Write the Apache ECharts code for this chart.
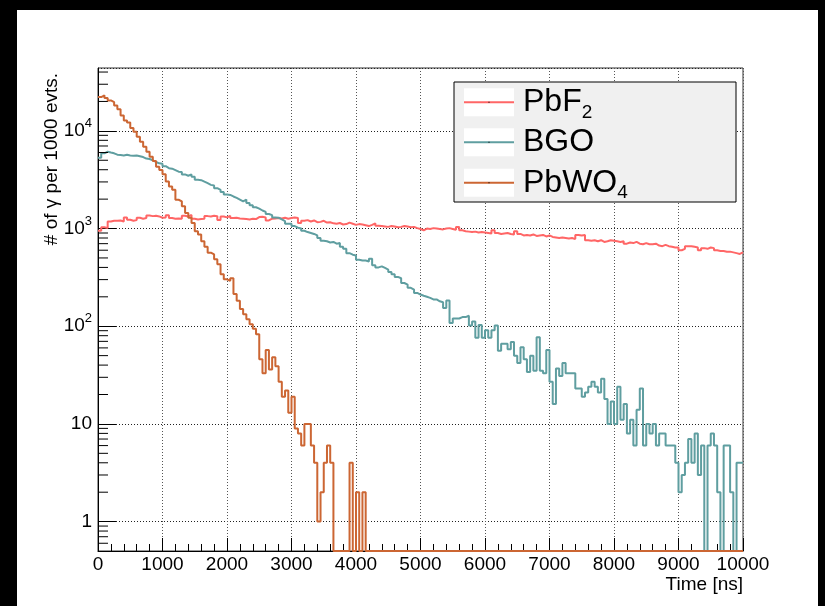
<!DOCTYPE html>
<html><head><meta charset="utf-8">
<script src="https://cdn.jsdelivr.net/npm/echarts@6/dist/echarts.min.js"></script>
<style>
html,body{margin:0;padding:0;background:#000;width:825px;height:606px;overflow:hidden}
#frame{position:absolute;left:17px;top:10px;width:801px;height:596px;background:#fff}
#chart{width:801px;height:596px}
</style></head><body><div id="frame"><div id="chart"></div></div>
<script>
// ---- data ----
const binWidth = 50; // ns
const xTicks = [0,1000,2000,3000,4000,5000,6000,7000,8000,9000,10000];
const yMinorTicks = [0.6,0.7,0.8,0.9, 2,3,4,5,6,7,8,9, 20,30,40,50,60,70,80,90,
  200,300,400,500,600,700,800,900, 2000,3000,4000,5000,6000,7000,8000,9000, 20000,30000,40000];
const seriesNames = ['PbF2','BGO','PbWO4'];

const pbf2 = [950,1030,1010,1180,1200,1200,1210,1180,1300,1230,1200,1220,1290,1260,1280,1360,1340,1350,1330,1290,
  1300,1370,1280,1260,1270,1260,1350,1330,1380,1260,1240,1250,1260,1340,1330,1350,1340,1220,1330,1300,
  1350,1280,1290,1270,1260,1250,1240,1260,1250,1310,1320,1300,1210,1260,1270,1280,1270,1290,1260,1280,
  1300,1280,1140,1200,1220,1180,1210,1160,1170,1200,1150,1160,1130,1120,1140,1100,1110,1150,1120,1090,
  1110,1100,1080,1060,1090,1130,1070,1060,1050,1040,1060,1050,1030,1040,1060,1050,1030,1040,1010,990,
  960,1000,990,1010,1000,990,980,1000,1010,990,970,1040,960,940,930,920,930,910,920,910,
  900,890,960,900,880,890,900,880,870,940,880,850,860,850,870,840,850,860,830,850,
  820,810,800,810,800,790,800,780,860,850,860,760,750,760,740,760,730,740,760,750,
  740,730,740,700,720,710,730,700,690,710,690,690,700,670,660,680,660,650,640,640,
  600,620,660,660,650,640,600,630,620,640,630,600,590,590,580,580,570,560,550,570];

const bgo = [5320,5890,6120,6000,5890,5700,5650,5600,5680,5600,5550,5600,5500,5390,5200,5150,5000,4800,4650,4600,
  4350,4150,4100,3960,3820,3800,3580,3470,3580,3390,3150,3130,3020,2910,2800,2760,2590,2490,2360,2230,
  2210,2130,2060,1980,1900,1980,1830,1730,1650,1600,1530,1480,1410,1370,1300,1290,1240,1190,1120,1120,
  1060,1020,1000,950,920,900,880,850,800,750,740,720,730,700,710,650,620,560,540,530,
  480,470,470,460,490,420,400,410,395,380,360,340,320,310,277,267,247,237,219,211,
  205,200,195,188,188,180,176,154,183,108,120,120,124,124,128,102,112,76,103,76,
  91,76,91,102,56,66,66,58,69,50,42,61,46,34,50,35,77,35,33,57,
  27,16,37,31,42,33,33,33,23,23,19,21,24,27,24,21,29,18,10,17,
  10,24,11,16,8,11,6,14,23,6,10,8,10,6,8,8,6,6,6,4,
  2,3,4,7,4,8,3,6,0,6,8,6,2,0,6,6,2,0,4,4];

const pbwo4 = [22200,23100,21700,20500,19700,18200,16600,14400,12800,12200,10700,9770,8690,7730,6880,6110,5440,4900,4300,3980,
  3600,3030,2690,2490,1970,1900,1690,1440,1290,1140,940,870,742,650,566,544,484,430,340,302,
  291,310,214,182,150,133,118,105,94,83,46,33,57,36,48,39,27,19,22,13,
  19,9,8,6,10,10,6,4,1,2,4,6,4,0,0,0,0,0,4,0,
  2,0,2,0,0,0,0,0,0,0,0,0,0,0,0,0,0,0,0,0,
  0,0,0,0,0,0,0,0,0,0,0,0,0,0,0,0,0,0,0,0,
  0,0,0,0,0,0,0,0,0,0,0,0,0,0,0,0,0,0,0,0,
  0,0,0,0,0,0,0,0,0,0,0,0,0,0,0,0,0,0,0,0,
  0,0,0,0,0,0,0,0,0,0,0,0,0,0,0,0,0,0,0,0,
  0,0,0,0,0,0,0,0,0,0,0,0,0,0,0,0,0,0,0,0];

// ---- styling ----
const FONT = 'Liberation Sans, Helvetica, Arial, sans-serif';
const colors = ['#ff6666', '#5f9ea0', '#cc6633'];
const yMin = 0.5, yMax = 44000;

function toSteps(arr) {
  const pts = arr.map((v, i) => [i * binWidth, v > 0 ? v : yMin]);
  pts.push([arr.length * binWidth, pts[pts.length - 1][1]]);
  return pts;
}

const chart = echarts.init(document.getElementById('chart'), null, {renderer: 'canvas'});

const G = {left: 81, top: 58, width: 645, height: 483};

function legendGraphics() {
  const box = {x: 437, y: 72, w: 282, h: 120};
  const rows = [92.3, 132.3, 172.7];
  const labels = [['PbF', '2'], ['BGO', ''], ['PbWO', '4']];
  const els = [{
    type: 'rect', shape: {x: box.x, y: box.y, width: box.w, height: box.h},
    style: {fill: '#f0f0f0', stroke: '#000', lineWidth: 1}, z: 10
  }];
  rows.forEach((cy, i) => {
    els.push({type: 'rect', shape: {x: 447, y: cy - 14, width: 50, height: 28}, style: {fill: '#fff'}, z: 11});
    els.push({type: 'line', shape: {x1: 447, y1: cy, x2: 497, y2: cy}, style: {stroke: colors[i], lineWidth: 2}, z: 12});
    els.push({type: 'rect', shape: {x: 471.5, y: cy - 0.5, width: 1, height: 1}, style: {fill: '#000'}, z: 13});
    const t = labels[i];
    els.push({
      type: 'text', x: 506, y: cy, z: 12,
      style: {
        text: t[1] ? '{a|' + t[0] + '}{b|' + t[1] + '}' : '{a|' + t[0] + '}',
        verticalAlign: 'middle', align: 'left',
        rich: {
          a: {fontSize: 32, lineHeight: 40, fontFamily: FONT, fill: '#000', color: '#000'},
          b: {fontSize: 19, lineHeight: 20, verticalAlign: 'bottom', fontFamily: FONT, fill: '#000', color: '#000'}
        }
      }
    });
  });
  return els;
}

const option = {
  animation: false,
  backgroundColor: '#fff',
  grid: Object.assign({show: true, borderColor: '#333', borderWidth: 1, backgroundColor: 'transparent'}, G),
  xAxis: {
    type: 'value', min: xTicks[0], max: xTicks[xTicks.length - 1], interval: 1000,
    axisLine: {show: true, lineStyle: {color: '#000', width: 1}},
    axisTick: {show: true, inside: true, length: 13, lineStyle: {color: '#000'}},
    minorTick: {show: true, splitNumber: 5, length: 7, lineStyle: {color: '#000'}},
    axisLabel: {color: '#000', fontSize: 19, fontFamily: FONT, margin: 4, formatter: v => String(v)},
    splitLine: {show: true, lineStyle: {color: '#555', type: [1, 2], width: 1}}
  },
  yAxis: {
    type: 'log', logBase: 10, min: yMin, max: yMax,
    axisLine: {show: true, lineStyle: {color: '#000', width: 1}},
    axisTick: {show: true, inside: true, length: 18, lineStyle: {color: '#000'}},
    axisLabel: {
      color: '#000', fontSize: 19, fontFamily: FONT, margin: 6,
      showMinLabel: false, showMaxLabel: false,
      formatter: function (v) {
        const l = Math.log10(v), n = Math.round(l);
        if (Math.abs(l - n) > 1e-6) return '';
        if (n === 0) return '1';
        if (n === 1) return '10';
        return '{b|10}{s|' + n + '}';
      },
      rich: {
        b: {fontSize: 19, lineHeight: 28, fontFamily: FONT, color: '#000'},
        s: {fontSize: 13, lineHeight: 12, verticalAlign: 'top', fontFamily: FONT, color: '#000'}
      }
    },
    splitLine: {show: true, lineStyle: {color: '#222', type: [1, 2], width: 1}}
  },
  series: [
    {
      type: 'custom', name: 'minorTicks', silent: true, clip: false, z: 5,
      data: yMinorTicks.map(v => [0, v]),
      renderItem: function (params, api) {
        const p = api.coord([api.value(0), api.value(1)]);
        return {type: 'line', shape: {x1: p[0], y1: p[1], x2: p[0] + 10, y2: p[1]}, style: {stroke: '#000', lineWidth: 1}};
      }
    }
  ].concat([pbf2, bgo, pbwo4].map((arr, i) => ({
    type: 'line', name: seriesNames[i], step: 'end', symbol: 'none', data: toSteps(arr),
    lineStyle: {color: colors[i], width: 2}, itemStyle: {color: colors[i]}, z: 3 + i
  }))),
  graphic: [
    {type: 'text', x: 35, y: 63, rotation: Math.PI / 2, z: 10,
      style: {text: '# of \u03b3 per 1000 evts.', align: 'right', verticalAlign: 'middle', font: '19px ' + FONT, fill: '#000'}},
    {type: 'text', x: 726, y: 575, z: 10,
      style: {text: 'Time [ns]', align: 'right', verticalAlign: 'middle', font: '19px ' + FONT, fill: '#000'}}
  ].concat(legendGraphics())
};
chart.setOption(option);
</script></body></html>
